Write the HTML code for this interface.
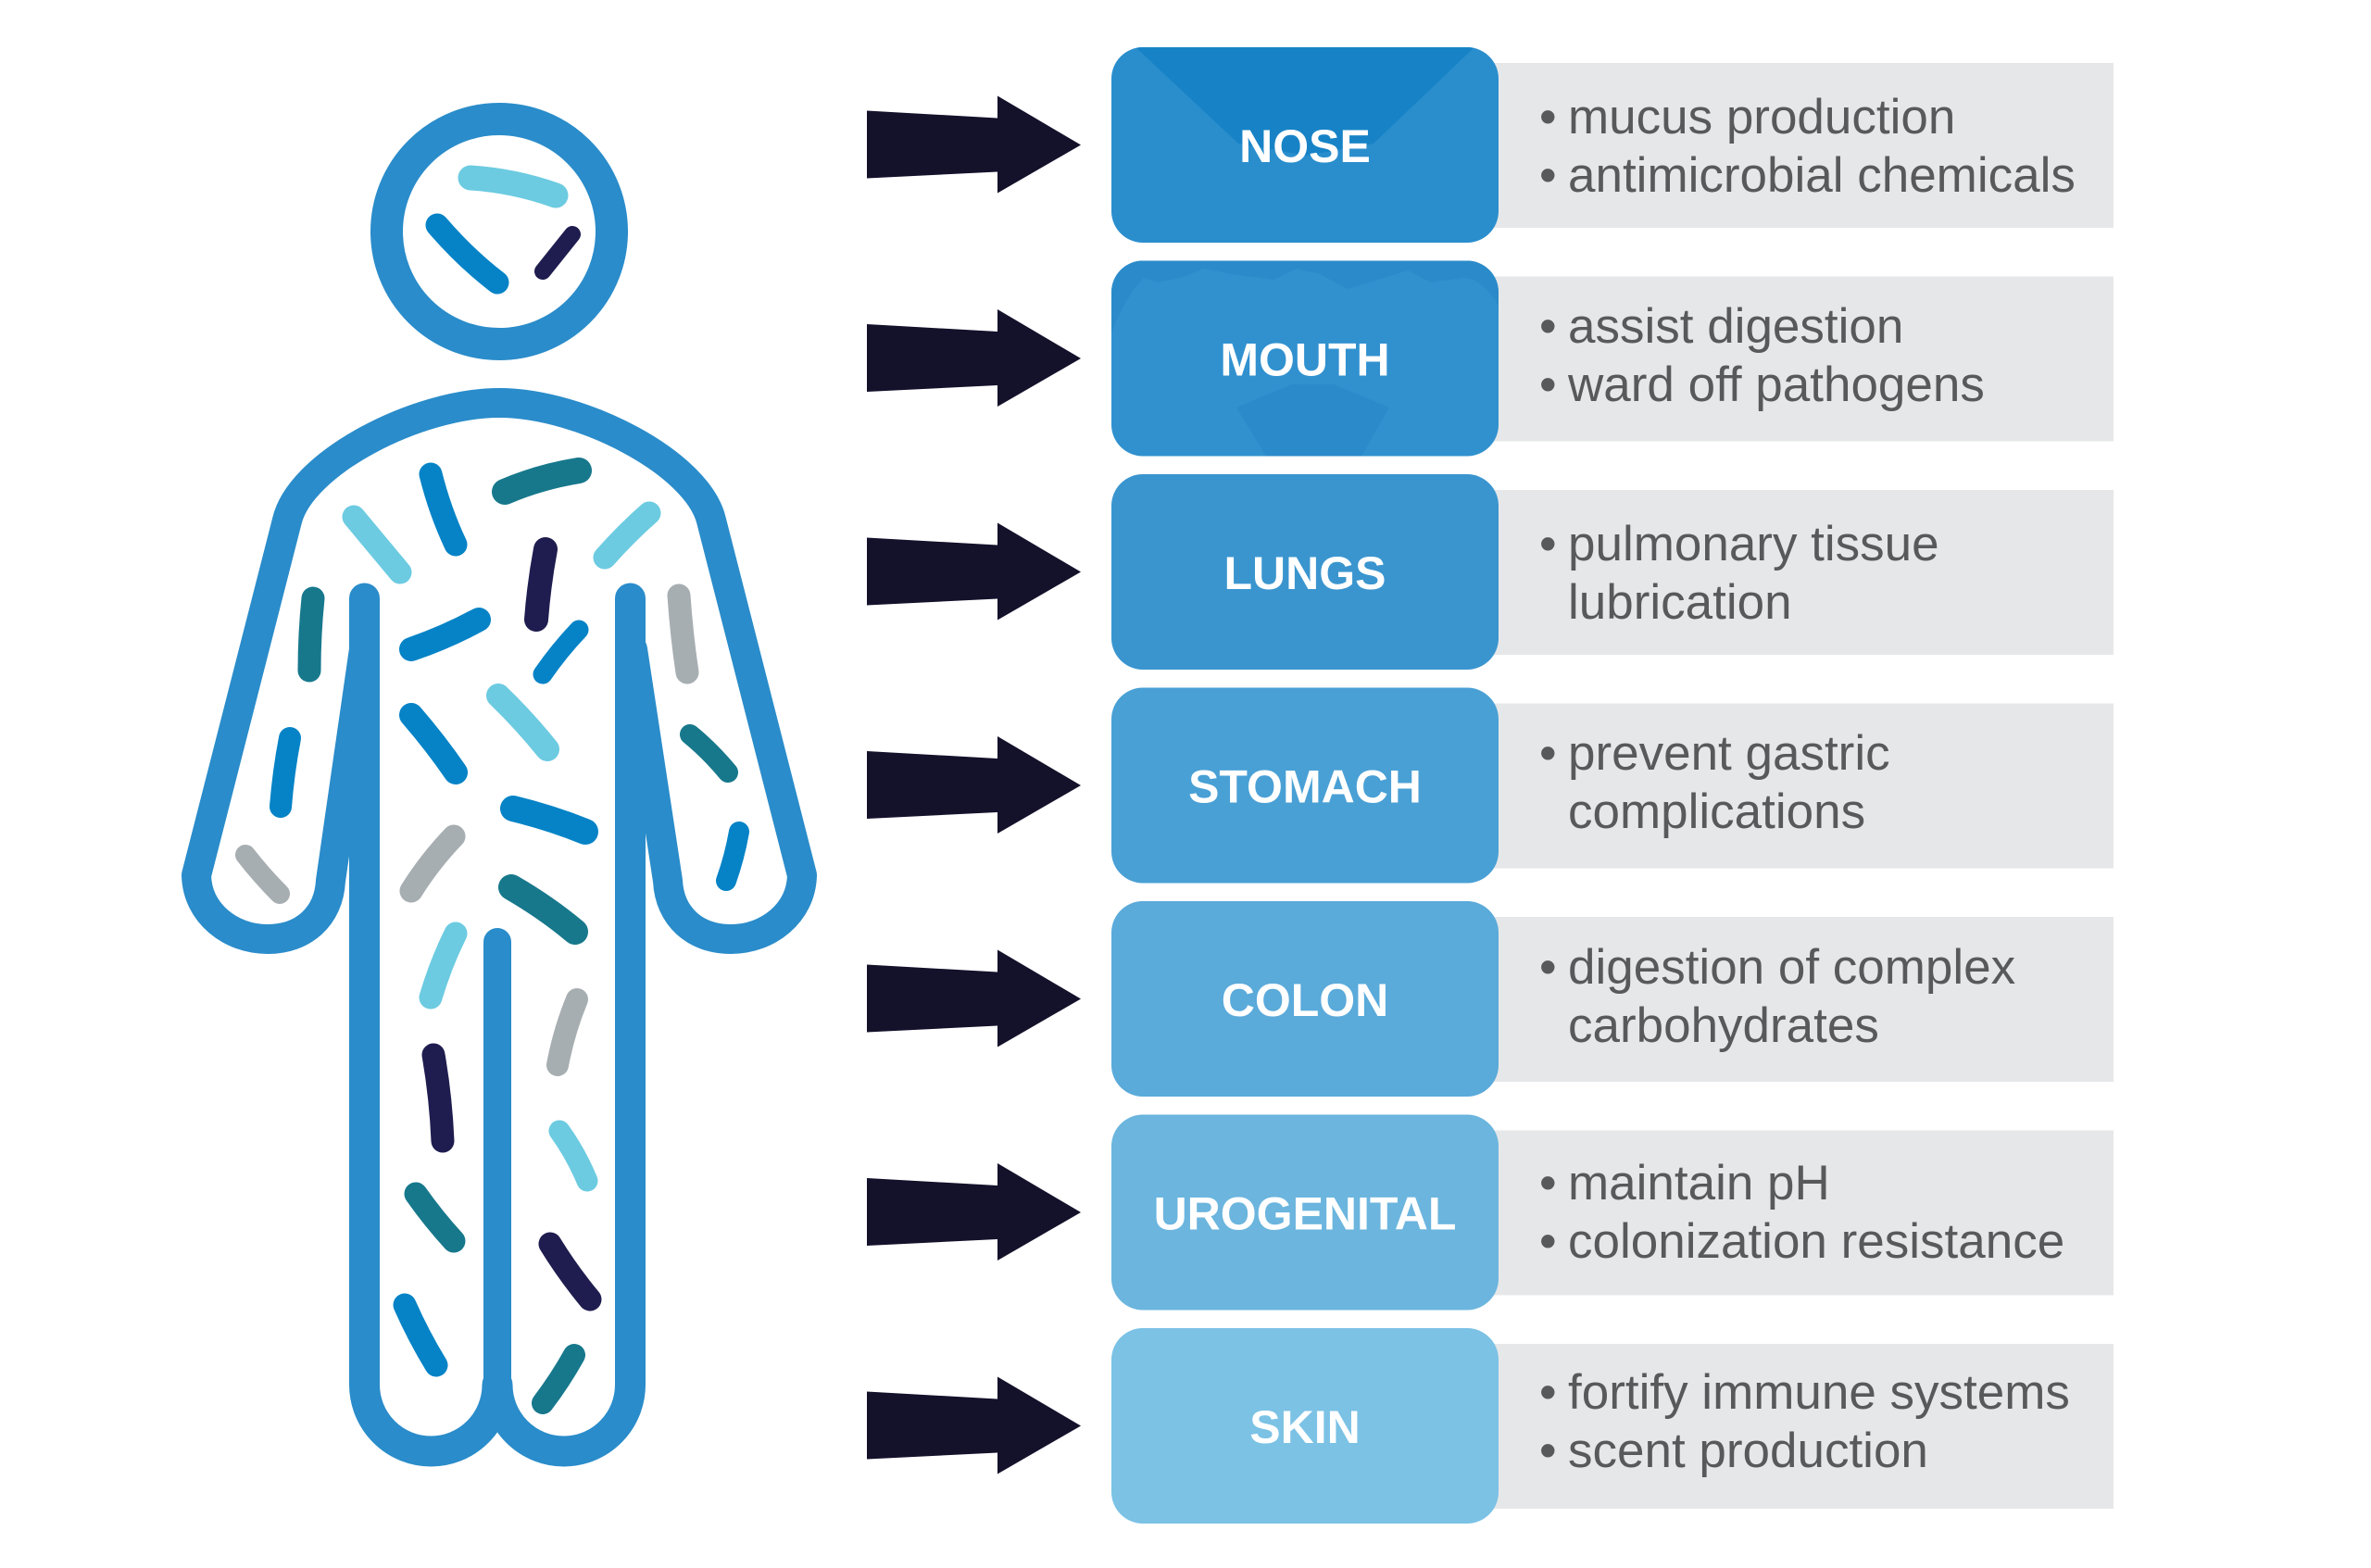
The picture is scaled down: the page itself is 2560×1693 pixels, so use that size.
<!DOCTYPE html>
<html>
<head>
<meta charset="utf-8">
<style>
  html,body{margin:0;padding:0;background:#fff;}
  svg{display:block;}
  .lbl{font-family:"Liberation Sans",Arial,sans-serif;font-weight:bold;font-size:50px;fill:#fff;}
  .txt{font-family:"Liberation Sans",Arial,sans-serif;font-size:53px;fill:#58595b;}
</style>
</head>
<body>
<svg width="2560" height="1693" viewBox="0 0 2560 1693" xmlns="http://www.w3.org/2000/svg">
  <rect width="2560" height="1693" fill="#ffffff"/>

  <!-- ===== Human figure ===== -->
  <g fill="none" stroke="#2a8cca" stroke-linecap="round" stroke-linejoin="round">
    <circle cx="539" cy="250" r="121.5" stroke-width="35"/>
    <path stroke-width="32" d="M 393,701 L 357,951 C 355,990 327,1014 289,1014 C 249,1014 213,986 212,945 L 310,562 C 325,500 450,435 539,435 C 628,435 753,500 768,562 L 866,945 C 865,986 829,1014 789,1014 C 751,1014 723,990 721,951 L 683,701"/>
    <path stroke-width="33" d="M 393.5,646 L 393.5,1495 A 71.75 72 0 0 0 537,1495 A 71.75 72 0 0 0 680.5,1495 L 680.5,646"/>
    <path stroke-width="30" d="M 537,1017 L 537,1495"/>
  </g>

  <!-- ===== Bacteria ===== -->
  <g fill="none" stroke-linecap="round">
    <!-- head -->
    <path d="M508,192 Q555,195 600,211" stroke="#6ccbe1" stroke-width="27"/>
    <path d="M472,243 Q502,278 537,305" stroke="#0583c6" stroke-width="25"/>
    <path d="M618,253 L586,293" stroke="#1f1d4f" stroke-width="18"/>
    <!-- torso -->
    <path d="M465,512 Q475,552 492,588" stroke="#0583c6" stroke-width="25"/>
    <path d="M545,531 Q582,515 625,508" stroke="#17788c" stroke-width="28"/>
    <path d="M382,558 L432,618" stroke="#6ccbe1" stroke-width="25"/>
    <path d="M701,554 Q676,576 653,602" stroke="#6ccbe1" stroke-width="25"/>
    <path d="M589,593 Q582,630 579,669" stroke="#1f1d4f" stroke-width="26"/>
    <path d="M338,646 Q334,685 334,724" stroke="#17788c" stroke-width="25"/>
    <path d="M733,643 Q736,686 742,726" stroke="#a7aeb1" stroke-width="25"/>
    <path d="M517,669 Q482,688 444,701" stroke="#0583c6" stroke-width="26"/>
    <path d="M625,680 Q604,702 586,728" stroke="#0583c6" stroke-width="21"/>
    <path d="M538,751 Q566,778 591,809" stroke="#6ccbe1" stroke-width="26"/>
    <path d="M444,772 Q470,802 492,834" stroke="#0583c6" stroke-width="26"/>
    <path d="M313,797 Q306,833 303,871" stroke="#0583c6" stroke-width="24"/>
    <path d="M745,793 Q767,811 786,834" stroke="#17788c" stroke-width="22"/>
    <path d="M554,873 Q595,883 632,898" stroke="#0583c6" stroke-width="28"/>
    <path d="M490,903 Q464,930 444,962" stroke="#a7aeb1" stroke-width="25"/>
    <path d="M265,923 Q283,946 302,965" stroke="#a7aeb1" stroke-width="22"/>
    <path d="M798,898 Q793,926 784,951" stroke="#0583c6" stroke-width="22"/>
    <path d="M552,958 Q590,980 621,1006" stroke="#17788c" stroke-width="28"/>
    <path d="M492,1008 Q476,1040 465,1077" stroke="#6ccbe1" stroke-width="25"/>
    <path d="M623,1079 Q609,1113 602,1150" stroke="#a7aeb1" stroke-width="24"/>
    <path d="M468,1139 Q476,1185 478,1232" stroke="#1f1d4f" stroke-width="25"/>
    <path d="M604,1221 Q622,1246 634,1275" stroke="#6ccbe1" stroke-width="23"/>
    <path d="M449,1289 Q468,1316 490,1340" stroke="#17788c" stroke-width="25"/>
    <path d="M594,1343 Q613,1374 637,1403" stroke="#1f1d4f" stroke-width="25"/>
    <path d="M437,1409 Q452,1443 471,1474" stroke="#0583c6" stroke-width="25"/>
    <path d="M620,1463 Q605,1490 586,1515" stroke="#17788c" stroke-width="24"/>
  </g>

  <!-- ===== Arrows ===== -->
  <g fill="#14112b">
    <polygon points="936,119.5 1077,127.5 1077,103.5 1167,156.5 1077,208.5 1077,185.5 936,192.5"/>
    <polygon points="936,350 1077,358 1077,334 1167,387 1077,439 1077,416 936,423"/>
    <polygon points="936,580.5 1077,588.5 1077,564.5 1167,617.5 1077,669.5 1077,646.5 936,653.5"/>
    <polygon points="936,811 1077,819 1077,795 1167,848 1077,900 1077,877 936,884"/>
    <polygon points="936,1041.5 1077,1049.5 1077,1025.5 1167,1078.5 1077,1130.5 1077,1107.5 936,1114.5"/>
    <polygon points="936,1272 1077,1280 1077,1256 1167,1309 1077,1361 1077,1338 936,1345"/>
    <polygon points="936,1502.5 1077,1510.5 1077,1486.5 1167,1539.5 1077,1591.5 1077,1568.5 936,1575.5"/>
  </g>

  <!-- ===== Grey description panels ===== -->
  <g fill="#e6e7e8">
    <rect x="1600" y="68" width="682" height="178"/>
    <rect x="1600" y="298.5" width="682" height="178"/>
    <rect x="1600" y="529" width="682" height="178"/>
    <rect x="1600" y="759.5" width="682" height="178"/>
    <rect x="1600" y="990" width="682" height="178"/>
    <rect x="1600" y="1220.5" width="682" height="178"/>
    <rect x="1600" y="1451" width="682" height="178"/>
  </g>

  <!-- ===== Blue boxes ===== -->
  <defs>
    <clipPath id="c1"><rect x="1200" y="51" width="418" height="211" rx="34" ry="34"/></clipPath>
    <clipPath id="c2"><rect x="1200" y="281.5" width="418" height="211" rx="34" ry="34"/></clipPath>
  </defs>
  <rect x="1200" y="51" width="418" height="211" rx="34" ry="34" fill="#2a8ecd"/>
  <polygon clip-path="url(#c1)" points="1226,51 1592,51 1483,155 1410,168 1337,155" fill="#1783c6"/>
  <rect x="1200" y="281.5" width="418" height="211" rx="34" ry="34" fill="#3191cf"/>
  <g clip-path="url(#c2)" fill="#2b8bca">
    <path d="M1200,281.5 L1618,281.5 L1618,330 Q1600,300 1580,300 L1545,305 L1520,292 L1488,302 L1455,312 L1425,296 L1400,290 L1375,302 L1330,296 L1300,290 L1275,300 L1250,305 L1235,300 Q1215,320 1200,360 Z"/>
    <path d="M1367,492.5 L1470,492.5 L1500,440 L1440,415 L1395,415 L1335,440 Z"/>
  </g>
  <rect x="1200" y="512" width="418" height="211" rx="34" ry="34" fill="#3a95cf"/>
  <rect x="1200" y="742.5" width="418" height="211" rx="34" ry="34" fill="#49a0d5"/>
  <rect x="1200" y="973" width="418" height="211" rx="34" ry="34" fill="#5aaada"/>
  <rect x="1200" y="1203.5" width="418" height="211" rx="34" ry="34" fill="#6bb5de"/>
  <rect x="1200" y="1434" width="418" height="211" rx="34" ry="34" fill="#7bc2e5"/>

  <!-- ===== Labels ===== -->
  <g class="lbl" text-anchor="middle">
    <text x="1409" y="175">NOSE</text>
    <text x="1409" y="405.5">MOUTH</text>
    <text x="1409" y="636">LUNGS</text>
    <text x="1409" y="866.5">STOMACH</text>
    <text x="1409" y="1097">COLON</text>
    <text x="1409" y="1327.5">UROGENITAL</text>
    <text x="1409" y="1558">SKIN</text>
  </g>

  <!-- ===== Descriptions ===== -->
  <g class="txt">
    <text x="1662" y="144">•</text><text x="1693" y="144">mucus production</text>
    <text x="1662" y="207">•</text><text x="1693" y="207">antimicrobial chemicals</text>

    <text x="1662" y="370">•</text><text x="1693" y="370">assist digestion</text>
    <text x="1662" y="433">•</text><text x="1693" y="433">ward off pathogens</text>

    <text x="1662" y="605">•</text><text x="1693" y="605">pulmonary tissue</text>
    <text x="1693" y="668">lubrication</text>

    <text x="1662" y="831">•</text><text x="1693" y="831">prevent gastric</text>
    <text x="1693" y="894">complications</text>

    <text x="1662" y="1062">•</text><text x="1693" y="1062">digestion of complex</text>
    <text x="1693" y="1125">carbohydrates</text>

    <text x="1662" y="1295">•</text><text x="1693" y="1295">maintain pH</text>
    <text x="1662" y="1358">•</text><text x="1693" y="1358">colonization resistance</text>

    <text x="1662" y="1521">•</text><text x="1693" y="1521">fortify immune systems</text>
    <text x="1662" y="1584">•</text><text x="1693" y="1584">scent production</text>
  </g>
</svg>
</body>
</html>
